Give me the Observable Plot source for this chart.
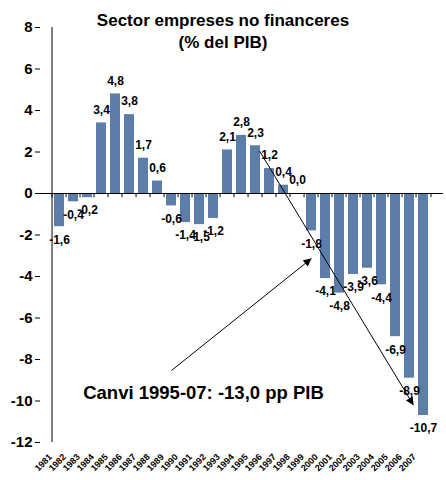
<!DOCTYPE html>
<html>
<head>
<meta charset="utf-8">
<script src="https://cdn.jsdelivr.net/npm/d3@7"></script>
<script src="https://cdn.jsdelivr.net/npm/@observablehq/plot@0.6"></script>
<style>
  body { margin: 0; background: white; }
  #wrap { position: relative; width: 446px; height: 480px; }
  #title { position: absolute; left: 0; top: 10px; width: 446px; text-align: center;
           font-family: "Liberation Sans", Arial, sans-serif; font-weight: bold; font-size: 17px;
           line-height: 22px; color: #000; pointer-events: none; }
</style>
</head>
<body>
<div id="wrap"><div id="title">Sector empreses no financeres<br>(% del PIB)</div></div>
<script>
const years = ["1981","1982","1983","1984","1985","1986","1987","1988","1989","1990",
  "1991","1992","1993","1994","1995","1996","1997","1998","1999","2000",
  "2001","2002","2003","2004","2005","2006","2007"];
const values = [-1.6,-0.4,-0.2,3.4,4.8,3.8,1.7,0.6,-0.6,-1.4,
  -1.5,-1.2,2.1,2.8,2.3,1.2,0.4,0.0,-1.8,-4.1,
  -4.8,-3.9,-3.6,-4.4,-6.9,-8.9,-10.7];
const yTicks = [8,6,4,2,0,-2,-4,-6,-8,-10,-12];
const annotationText = ["Canvi 1995-07: -13,0 pp PIB"];
const arrows = [
  {x1: "1989", y1: -8.53, x2: "1999", y2: -3.13},
  {x1: "1996", y1: 2.05, x2: "2007", y2: -10.2}
];

const data = years.map((year, i) => ({year, value: values[i]}));
const fmt = v => v.toFixed(1).replace(".", ",");
const font = "'Liberation Sans', Arial, sans-serif";
const half = 403 / 27 / 2;

const chart = Plot.plot({
  width: 446,
  height: 480,
  marginLeft: 40,
  marginRight: 3,
  marginTop: 27,
  marginBottom: 38,
  style: {fontFamily: font, fontWeight: "bold", background: "white", color: "black"},
  x: {domain: years, paddingInner: 0.27, paddingOuter: 0.135, label: null},
  y: {domain: [-12, 8], label: null},
  marks: [
    Plot.barY(data, {x: "year", y: "value", fill: "#5B7DA8"}),
    Plot.ruleY([0], {stroke: "black", strokeWidth: 1}),
    Plot.ruleX(years, {x: d => d, y1: 0, y2: -0.2, dx: -half, stroke: "black"}),
    Plot.ruleX(years.slice(-1), {x: d => d, y1: 0, y2: -0.2, dx: half, stroke: "black"}),
    Plot.ruleX(years.slice(0, 1), {x: d => d, y1: -12, y2: 8, dx: -half, stroke: "black"}),
    Plot.axisY({ticks: yTicks, tickSize: 5, tickPadding: 3, fontSize: 15, tickFormat: d => String(d)}),
    Plot.axisX({tickSize: 0, tickRotate: -45, fontSize: 9, tickPadding: 13, dx: -9}),
    Plot.text(data.filter(d => d.value >= 0), {x: "year", y: "value", text: d => fmt(d.value), dy: -13, fontSize: 12, fontWeight: "bold", fill: "black"}),
    Plot.text(data.filter(d => d.value < 0), {x: "year", y: "value", text: d => fmt(d.value), dy: 13, fontSize: 12, fontWeight: "bold", fill: "black"}),
    Plot.link(arrows.slice(0, 1), {x1: "x1", y1: "y1", x2: "x2", y2: "y2", stroke: "black", strokeWidth: 1}),
    Plot.link(arrows.slice(1), {x1: "x1", y1: "y1", x2: "x2", y2: "y2", dx: -10, stroke: "black", strokeWidth: 1}),
    Plot.text(annotationText, {x: () => "1991", y: () => -9.6, text: d => d, dx: 4, fontSize: 18.5, fontWeight: "bold", fill: "black"})
  ]
});

const svg = d3.select(chart);
svg.append("defs").append("marker")
  .attr("id", "ah")
  .attr("viewBox", "0 0 10 10")
  .attr("refX", 10).attr("refY", 5)
  .attr("markerUnits", "userSpaceOnUse")
  .attr("markerWidth", 10).attr("markerHeight", 8)
  .attr("orient", "auto")
  .append("path").attr("d", "M0,0L10,5L0,10Z").attr("fill", "black");
svg.selectAll('g[aria-label="link"] path').attr("marker-end", "url(#ah)");

document.getElementById("wrap").prepend(chart);
</script>
</body>
</html>
